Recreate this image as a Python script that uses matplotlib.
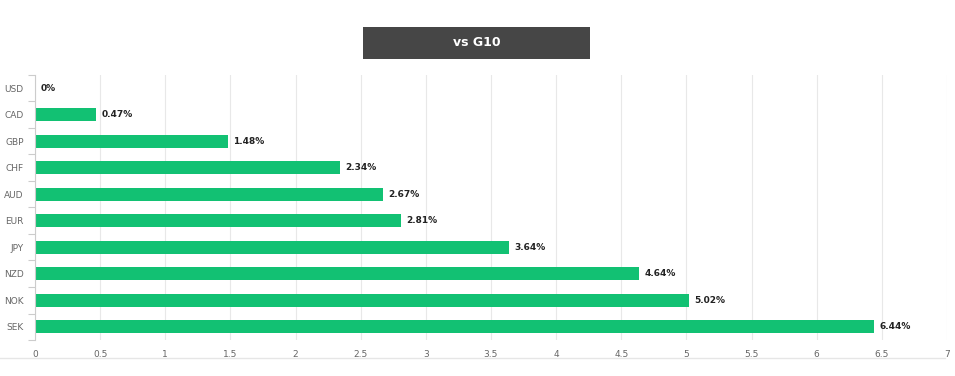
import matplotlib.pyplot as plt
from matplotlib.patches import Rectangle
from matplotlib.lines import Line2D

# ===== data =====
currencies = ["USD", "CAD", "GBP", "CHF", "AUD", "EUR", "JPY", "NZD", "NOK", "SEK"]
changes = [0, 0.47, 1.48, 2.34, 2.67, 2.81, 3.64, 4.64, 5.02, 6.44]
value_labels = ["0%", "0.47%", "1.48%", "2.34%", "2.67%", "2.81%", "3.64%", "4.64%", "5.02%", "6.44%"]
x_ticks = [0, 0.5, 1, 1.5, 2, 2.5, 3, 3.5, 4, 4.5, 5, 5.5, 6, 6.5, 7]
x_ticklabels = ["0", "0.5", "1", "1.5", "2", "2.5", "3", "3.5", "4", "4.5", "5", "5.5", "6", "6.5", "7"]

bar_color = "#12c173"
grid_color = "#e8e8e8"
tick_color = "#666666"

fig = plt.figure(figsize=(9.55, 3.76), dpi=100)
ax = fig.add_axes([0.0366, 0.0957, 0.955, 0.705])

ypos = list(range(len(currencies)))
ax.barh(ypos, changes, height=0.5, color=bar_color, zorder=2)
for y, v, lbl in zip(ypos, changes, value_labels):
    ax.text(v + 0.04, y, lbl, fontsize=6.5, color="#222222", fontweight="bold",
            ha="left", va="center", zorder=3)

ax.set_xlim(0, 7)
ax.set_ylim(len(currencies) - 0.5, -0.5)
ax.set_yticks(ypos)
ax.set_yticklabels(currencies)
ax.set_yticks([i - 0.5 for i in range(len(currencies) + 1)], minor=True)
ax.set_xticks(x_ticks)
ax.set_xticklabels(x_ticklabels)

ax.tick_params(axis="y", which="major", length=0, pad=8, labelsize=6.5, labelcolor=tick_color)
ax.tick_params(axis="y", which="minor", length=5, color="#cccccc", width=0.8)
ax.tick_params(axis="x", length=0, pad=7, labelsize=6.5, labelcolor=tick_color)

ax.grid(True, axis="x", color=grid_color, linewidth=0.8, zorder=0)
for s in ["top", "right", "bottom"]:
    ax.spines[s].set_visible(False)
ax.spines["left"].set_color("#cccccc")
ax.spines["left"].set_linewidth(0.8)

# bottom separator line across the figure
fig.add_artist(Line2D([0, 0.99], [0.048, 0.048], color="#e6e6e6", linewidth=1.0,
                      transform=fig.transFigure))

# title box
fig.add_artist(Rectangle((363 / 955, 1 - 59 / 376), 227 / 955, 32 / 376,
                         transform=fig.transFigure, facecolor="#464646",
                         edgecolor="none"))
fig.text(476.5 / 955, 1 - 43 / 376, "vs G10", color="white", fontsize=9,
         fontweight="bold", ha="center", va="center")

fig.savefig("out.png", dpi=100)
